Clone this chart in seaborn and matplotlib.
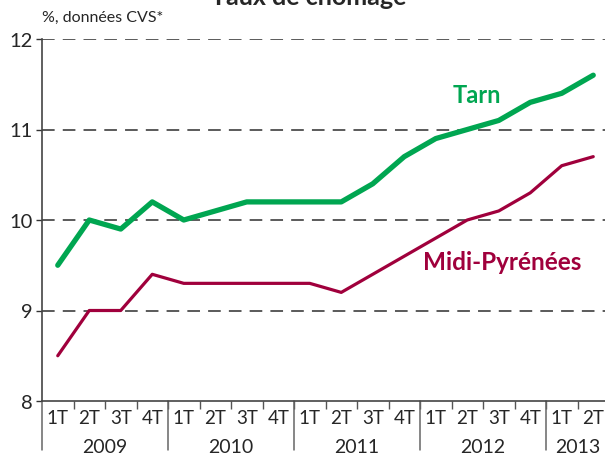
import pandas as pd
import matplotlib
matplotlib.use("Agg")
import matplotlib.pyplot as plt
import matplotlib.transforms as mtransforms
import seaborn as sns

# data
quarters = ["1T", "2T", "3T", "4T"] * 4 + ["1T", "2T"]
years = ["2009", "2010", "2011", "2012", "2013"]
tarn = [9.5, 10.0, 9.9, 10.2, 10.0, 10.1, 10.2, 10.2, 10.2, 10.2, 10.4, 10.7,
        10.9, 11.0, 11.1, 11.3, 11.4, 11.6]
midi_pyr = [8.5, 9.0, 9.0, 9.4, 9.3, 9.3, 9.3, 9.3, 9.3, 9.2, 9.4, 9.6,
            9.8, 10.0, 10.1, 10.3, 10.6, 10.7]
y_ticks = [8, 9, 10, 11, 12]

green = "#00a651"
crimson = "#a0003c"

idx = list(range(len(quarters)))
df = pd.DataFrame({
    "x": idx * 2,
    "taux": tarn + midi_pyr,
    "zone": ["Tarn"] * len(tarn) + ["Midi-Pyrénées"] * len(midi_pyr),
})

sns.set_style("white")
plt.rcParams["font.family"] = ["Lato", "DejaVu Sans"]

fig = plt.figure(figsize=(6.05, 4.56), dpi=100)
ax = fig.add_axes([42 / 605, 54 / 456, 567 / 605, 362 / 456])

for y in y_ticks[1:]:
    ax.axhline(y, color="#4d4d4d", lw=1.3, dashes=(7, 4.5), zorder=1)

sns.lineplot(data=df[df.zone == "Tarn"], x="x", y="taux", color=green,
             lw=3.8, ax=ax, legend=False, zorder=3)
sns.lineplot(data=df[df.zone == "Midi-Pyrénées"], x="x", y="taux", color=crimson,
             lw=2.3, ax=ax, legend=False, zorder=3)

ax.set_xlim(-0.5, 17.5)
ax.set_ylim(8, 12)
ax.set_xlabel("")
ax.set_ylabel("")
ax.set_yticks(y_ticks)
ax.set_yticklabels([str(v) for v in y_ticks], fontsize=14.5)
ax.tick_params(axis="y", length=4, width=1, color="#333333", pad=3, left=True)

ax.set_xticks(idx)
ax.set_xticklabels(quarters, fontsize=13.5)
ax.tick_params(axis="x", length=0, pad=6)
ax.set_xticks([i - 0.5 for i in range(1, len(quarters))], minor=True)
ax.tick_params(axis="x", which="minor", length=6, width=1, color="#555555", bottom=True)

for s in ["top", "right"]:
    ax.spines[s].set_visible(False)
for s in ["left", "bottom"]:
    ax.spines[s].set_color("#444444")
    ax.spines[s].set_linewidth(1.2)

# year separators and labels
trans = mtransforms.blended_transform_factory(ax.transData, ax.transAxes)
for b in [-0.5, 3.5, 7.5, 11.5, 15.5]:
    ax.plot([b, b], [0, -0.135], transform=trans, color="#666666", lw=1.1, clip_on=False)
for yr, c in zip(years, [1.5, 5.5, 9.5, 13.5, 16.5]):
    ax.text(c, -0.125, yr, transform=trans, ha="center", va="center", fontsize=14)

ax.text(13.3, 11.39, "Tarn", color=green, fontsize=17, fontweight="bold",
        ha="center", va="center")
ax.text(14.1, 9.54, "Midi-Pyrénées", color=crimson, fontsize=17.5, fontweight="bold",
        ha="center", va="center")

fig.text(42 / 605, 1 - 18 / 456, "%, données CVS*", fontsize=11.5, ha="left", va="center")
fig.text(309 / 605, 1 - 5 / 456, "Taux de chômage", fontsize=18, fontweight="bold",
         ha="center", va="baseline")

fig.savefig("out.png", dpi=100)
